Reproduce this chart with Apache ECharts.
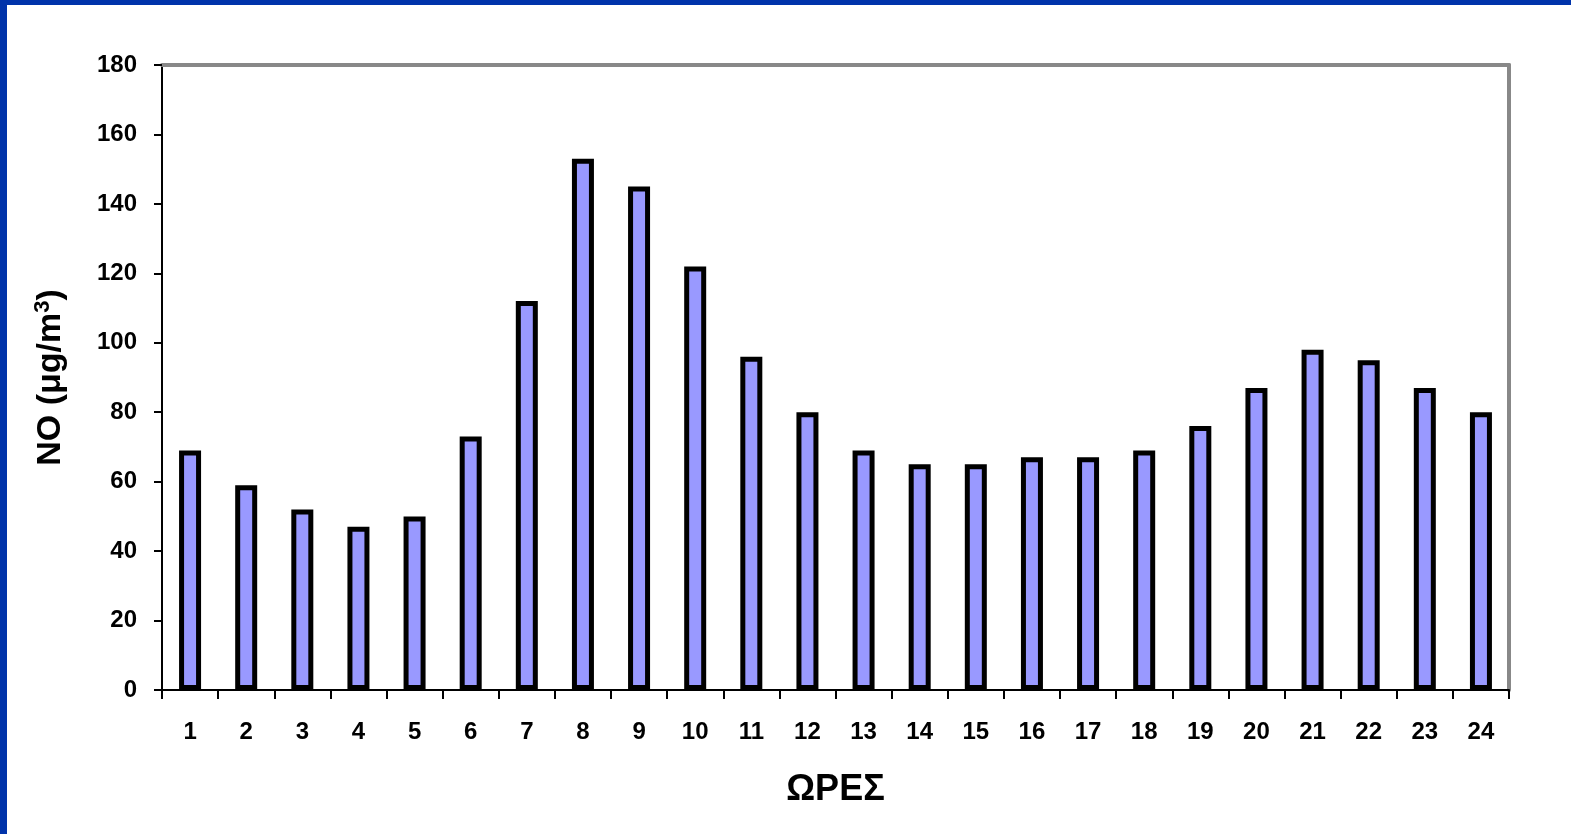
<!DOCTYPE html>
<html>
<head>
<meta charset="utf-8">
<script src="https://cdn.jsdelivr.net/npm/echarts@6/dist/echarts.min.js"></script>
<style>
html,body{margin:0;padding:0;background:#fff;}
#wrap{position:absolute;left:0;top:0;width:1571px;height:834px;background:#fff;}
#bl{position:absolute;left:0;top:0;width:7px;height:834px;background:#0033AA;}
#bt{position:absolute;left:0;top:0;width:1571px;height:5px;background:#0033AA;}
#chart{position:absolute;left:0;top:0;width:1571px;height:834px;}
</style>
</head>
<body>
<div id="wrap"><div id="chart"></div><div id="bl"></div><div id="bt"></div></div>
<script>
const hours = ['1','2','3','4','5','6','7','8','9','10','11','12','13','14','15','16','17','18','19','20','21','22','23','24'];
const noValues = [69,59,52,47,50,73,112,153,145,122,96,80,69,65,65,67,67,69,76,87,98,95,87,80];
const yTicks = {min:0, max:180, interval:20};

const chart = echarts.init(document.getElementById('chart'), null, {renderer:'canvas'});
const font = 'Liberation Sans, Arial, sans-serif';
chart.setOption({
  animation:false,
  backgroundColor:'#fff',
  grid:{left:162, right:62, top:65, bottom:144, containLabel:false},
  xAxis:[{
    type:'category', data:hours, position:'bottom',
    boundaryGap:true,
    axisLine:{show:true, onZero:false, lineStyle:{color:'#000', width:2}},
    axisTick:{show:true, alignWithLabel:false, length:9, lineStyle:{color:'#000', width:2}},
    axisLabel:{margin:30, color:'#000', fontFamily:font, fontWeight:'bold', fontSize:24},
    name:'ΩΡΕΣ', nameLocation:'middle', nameGap:82,
    nameTextStyle:{color:'#000', fontFamily:font, fontWeight:'bold', fontSize:36},
    splitLine:{show:false}
  },{
    type:'category', data:hours, position:'top',
    axisLine:{show:true, onZero:false, lineStyle:{color:'#888', width:4}},
    axisTick:{show:false}, axisLabel:{show:false}, splitLine:{show:false}
  }],
  yAxis:[{
    type:'value', min:yTicks.min, max:yTicks.max, interval:yTicks.interval, position:'left',
    axisLine:{show:true, onZero:false, lineStyle:{color:'#000', width:2}},
    axisTick:{show:true, length:8, lineStyle:{color:'#000', width:2}},
    axisLabel:{margin:25, color:'#000', fontFamily:font, fontWeight:'bold', fontSize:24},
    splitLine:{show:false},
    name:'NO (μg/m{sup|3})', nameLocation:'middle', nameGap:92,
    nameTextStyle:{color:'#000', fontFamily:font, fontWeight:'bold', fontSize:34,
      rich:{sup:{fontSize:22, fontWeight:'bold', fontFamily:font, color:'#000', verticalAlign:'top', padding:[0,0,16,0]}}}
  },{
    type:'value', min:yTicks.min, max:yTicks.max, interval:yTicks.interval, position:'right',
    axisLine:{show:true, onZero:false, lineStyle:{color:'#888', width:4}},
    axisTick:{show:false}, axisLabel:{show:false}, splitLine:{show:false}
  }],
  series:[{
    type:'bar', data:noValues, xAxisIndex:0, yAxisIndex:0,
    barWidth:22,
    itemStyle:{color:'#9999FF', borderColor:'#000', borderWidth:5}
  }]
});
</script>
</body>
</html>
